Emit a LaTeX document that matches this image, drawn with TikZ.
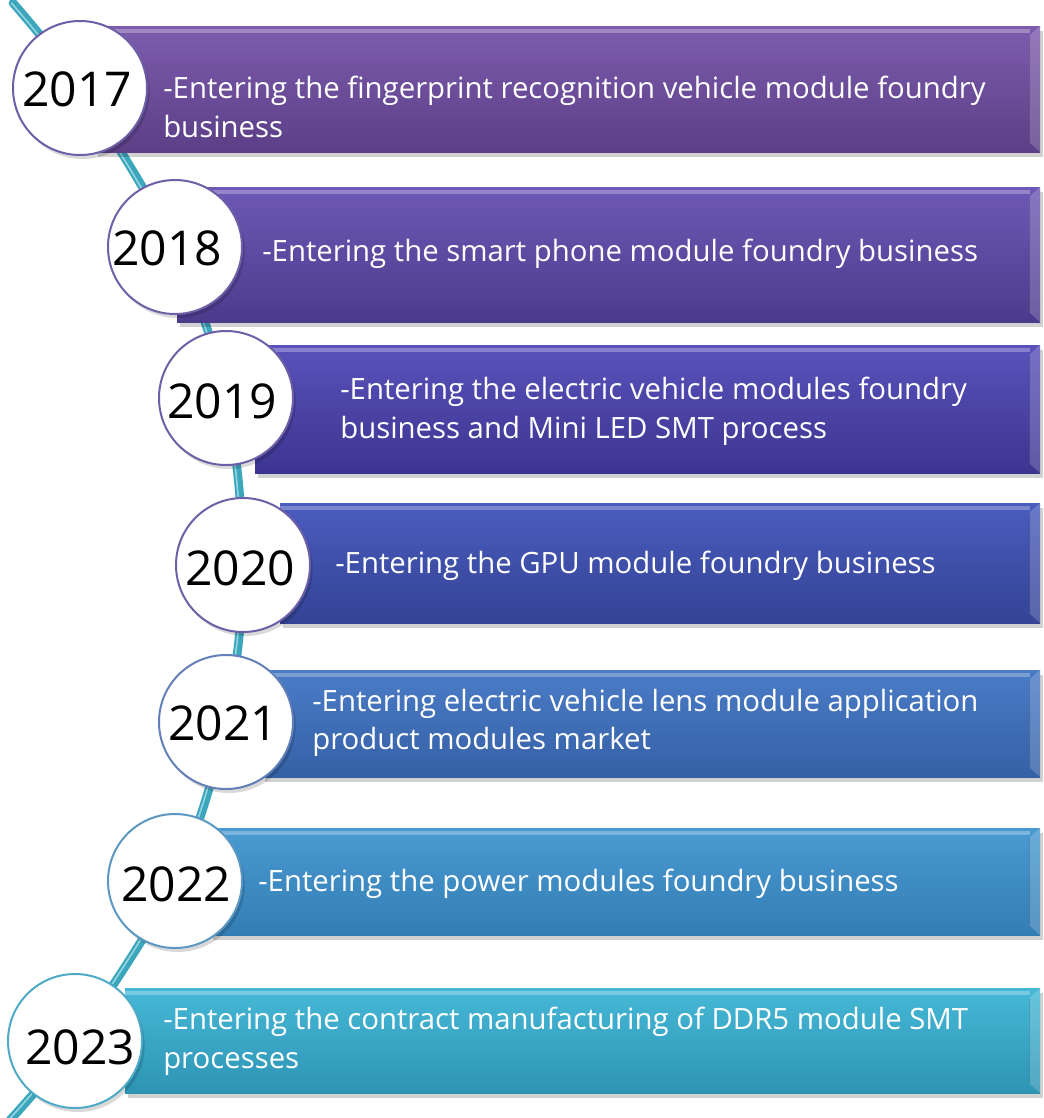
\documentclass[tikz,border=0pt]{standalone}
\usepackage{fontspec}
\setmainfont{Open Sans}
\usetikzlibrary{fit,calc}
\definecolor{tl}{HTML}{3CA6BC}
\definecolor{tlhi}{HTML}{A8E0EA}
\definecolor{bAt}{HTML}{7D5CAE}\definecolor{bAb}{HTML}{5B3F86}
\definecolor{bBt}{HTML}{6D59B6}\definecolor{bBb}{HTML}{4C3B8C}
\definecolor{bCt}{HTML}{5952BB}\definecolor{bCb}{HTML}{3C3590}
\definecolor{bDt}{HTML}{4A5CBE}\definecolor{bDb}{HTML}{344395}
\definecolor{bEt}{HTML}{4A7CC6}\definecolor{bEb}{HTML}{3560A6}
\definecolor{bFt}{HTML}{4A9AD2}\definecolor{bFb}{HTML}{337DB4}
\definecolor{bGt}{HTML}{46B8D7}\definecolor{bGb}{HTML}{2E94B4}
\definecolor{rA}{HTML}{6E5FA6}
\definecolor{rE}{HTML}{6380B8}
\definecolor{rF}{HTML}{5C98C2}
\definecolor{rG}{HTML}{4EAAC6}
\tikzset{
  barbox/.style={rectangle, inner sep=0pt,
    preaction={fill=black, opacity=0.18, transform canvas={shift={(2pt,-4pt)}}}},
  yearcirc/.style={circle, fill=white, line width=1.5pt, minimum size=100.5pt, inner sep=0pt,
    preaction={fill=black, opacity=0.15, transform canvas={shift={(2pt,-3pt)}}}},
  yeartext/.style={font=\fontsize{36}{40}\selectfont, text=black, inner sep=0pt},
  bartext/.style={font=\fontsize{22}{29}\selectfont, text=white, align=left, inner sep=0pt, anchor=west},
  tline/.style={draw=tl, line width=6.5pt, line cap=round},
  tlinehi/.style={draw=tlhi, line width=1.2pt, line cap=round, opacity=0.8},
  tophi/.style={draw=white, opacity=0.28, line width=3pt},
}
\newcommand{\bevel}[1]{%
  \draw[tophi] ($(#1.north west)+(0,5)$) -- ($(#1.north east)+(-10,5)$);
  \fill[white, opacity=0.18] (#1.north east) -- ($(#1.north east)+(-11,10)$) -- ($(#1.south east)+(-11,-10)$) -- (#1.south east) -- cycle;
  \draw[black, opacity=0.15, line width=0.6pt] ($(#1.north east)+(-11,10)$) -- ($(#1.south east)+(-11,-10)$);
}
\begin{document}
\begin{tikzpicture}[x=0.75pt,y=-0.75pt]
\useasboundingbox (0,0) rectangle (1043,1118);
\fill[white] (0,0) rectangle (1043,1118);
% timeline anchor points
\coordinate (ts) at (13,3);
\coordinate (p1) at (80,88);
\coordinate (p2) at (175,247);
\coordinate (p3) at (226,398);
\coordinate (p4) at (243,565);
\coordinate (p5) at (226,722);
\coordinate (p6) at (175,881);
\coordinate (p7) at (75,1041);
\coordinate (te) at (10,1120);
% timeline
\draw[tline] plot[smooth, tension=0.55] coordinates {(ts) (p1) (p2) (p3) (p4) (p5) (p6) (p7) (te)};
\draw[tlinehi, transform canvas={shift={(-1.2pt,0pt)}}] plot[smooth, tension=0.55] coordinates {(ts) (p1) (p2) (p3) (p4) (p5) (p6) (p7) (te)};
% bars
\node[barbox, fit={(95,26) (1040,152)}, top color=bAt, bottom color=bAb] (b1) {};
\node[barbox, fit={(177,187) (1040,322)}, top color=bBt, bottom color=bBb] (b2) {};
\node[barbox, fit={(255,345) (1040,473)}, top color=bCt, bottom color=bCb] (b3) {};
\node[barbox, fit={(280,503) (1040,623)}, top color=bDt, bottom color=bDb] (b4) {};
\node[barbox, fit={(262,670) (1040,777)}, top color=bEt, bottom color=bEb] (b5) {};
\node[barbox, fit={(210,828) (1040,935)}, top color=bFt, bottom color=bFb] (b6) {};
\node[barbox, fit={(125,988) (1040,1093)}, top color=bGt, bottom color=bGb] (b7) {};
\bevel{b1}\bevel{b2}\bevel{b3}\bevel{b4}\bevel{b5}\bevel{b6}\bevel{b7}
% bar texts
\node[bartext] (t1) at (163,107) {-Entering the fingerprint recognition vehicle module foundry\\business};
\node[bartext] (t2) at (262,254) {-Entering the smart phone module foundry business};
\node[bartext] (t3) at (340,411) {-Entering the electric vehicle modules foundry\\business and Mini LED SMT process};
\node[bartext] (t4) at (335,566) {-Entering the GPU module foundry business};
\node[bartext] (t5) at (312,723) {-Entering electric vehicle lens module application\\product modules market};
\node[bartext] (t6) at (258,884) {-Entering the power modules foundry business};
\node[bartext] (t7) at (163,1041) {-Entering the contract manufacturing of DDR5 module SMT\\processes};
% circles
\node[yearcirc, draw=rA] (c1) at (p1) {};
\node[yearcirc, draw=rA] (c2) at (p2) {};
\node[yearcirc, draw=rA] (c3) at (p3) {};
\node[yearcirc, draw=rA] (c4) at (p4) {};
\node[yearcirc, draw=rE] (c5) at (p5) {};
\node[yearcirc, draw=rF] (c6) at (p6) {};
\node[yearcirc, draw=rG] (c7) at (p7) {};
\node[yeartext] (y1) at (77,89) {2017};
\node[yeartext] (y2) at (167,248) {2018};
\node[yeartext] (y3) at (222,401) {2019};
\node[yeartext] (y4) at (240,568) {2020};
\node[yeartext] (y5) at (223,723) {2021};
\node[yeartext] (y6) at (176,884) {2022};
\node[yeartext] (y7) at (80,1047) {2023};
\end{tikzpicture}
\end{document}
